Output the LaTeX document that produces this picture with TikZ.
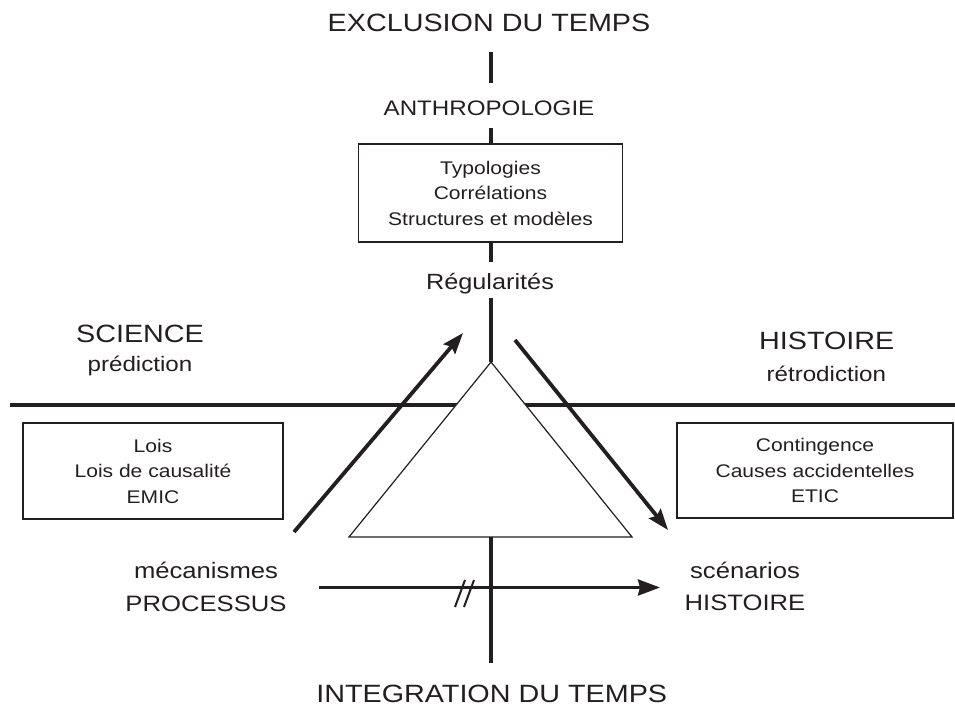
\documentclass[tikz,border=0pt]{standalone}
\usepackage{fontspec}
\setmainfont{Liberation Sans}[FakeStretch=1.15]
\usetikzlibrary{arrows.meta}
\definecolor{ink}{HTML}{231F20}
\newcommand\myfs[2]{\fontsize{#1}{#2}\selectfont}
\begin{document}
\begin{tikzpicture}[x=1pt,y=-1pt,
  lbl/.style={inner sep=0pt, anchor=base, text=ink},
  axis/.style={line width=4.6pt, draw=ink},
  mainline/.style={line width=4.4pt, draw=ink},
  arr/.style={line width=3.8pt, draw=ink, -{Stealth[length=21pt,width=15pt,inset=3pt]}},
  harr/.style={line width=3.3pt, draw=ink, -{Stealth[length=22pt,width=16pt,inset=2pt]}},
  textbox/.style={draw=ink, line width=1.3pt, align=center, inner sep=0pt, text=ink, font=\myfs{18.3}{25.5}},
  tri/.style={fill=white, draw=ink, line width=1.2pt},
  brk/.style={draw=ink, line width=2pt}]
\useasboundingbox (0,0) rectangle (955,708);

% main horizontal line
\coordinate (hl) at (10,405);
\coordinate (hr) at (955,405);
\draw[mainline] (hl) -- (hr);

% triangle
\coordinate (apex) at (491,362);
\coordinate (bl) at (349,537);
\coordinate (br) at (632,537);
\filldraw[tri] (apex) -- (bl) -- (br) -- cycle;

% labels
\node[lbl, font=\myfs{25}{30}] (excl) at (489,32) {EXCLUSION DU TEMPS};
\node[lbl, font=\myfs{21}{25}] (anthro) at (489,115.3) {ANTHROPOLOGIE};
\node[textbox, minimum width=264pt, minimum height=98pt] (typ) at (490.5,193)
  {Typologies\\Corrélations\\Structures et modèles};
\node[lbl, font=\myfs{22}{26}] (reg) at (490,289.3) {Régularités};
\node[lbl, font=\myfs{25}{30}] (sci) at (140,342.3) {SCIENCE};
\node[lbl, font=\myfs{21}{25}] (pred) at (140,371.7) {prédiction};
\node[lbl, font=\myfs{25}{30}] (hist) at (826.7,349) {HISTOIRE};
\node[lbl, font=\myfs{21}{25}] (retro) at (826.3,381) {rétrodiction};
\node[textbox, minimum width=260pt, minimum height=96pt] (lois) at (153,471)
  {Lois\\Lois de causalité\\EMIC};
\node[textbox, minimum width=276pt, minimum height=95pt] (cont) at (815,470.5)
  {Contingence\\Causes accidentelles\\ETIC};
\node[lbl, font=\myfs{22.3}{26}] (meca) at (206,578.3) {mécanismes};
\node[lbl, font=\myfs{22.3}{26}] (proc) at (206,611.5) {PROCESSUS};
\node[lbl, font=\myfs{22.3}{26}] (scen) at (745,578.3) {scénarios};
\node[lbl, font=\myfs{22.3}{26}] (hist2) at (745,610.5) {HISTOIRE};
\node[lbl, font=\myfs{25}{30}] (integ) at (491.7,702) {INTEGRATION DU TEMPS};

% vertical axis segments
\coordinate (v1a) at (491,52);
\coordinate (v1b) at (491,83);
\coordinate (v2a) at (491,128);
\coordinate (v3b) at (491,262);
\coordinate (v4a) at (491,298);
\coordinate (v5a) at (491,537);
\coordinate (v5b) at (491,663);
\draw[axis] (v1a) -- (v1b);
\draw[axis] (v2a) -- (v2a |- typ.north);
\draw[axis] (v3b |- typ.south) -- (v3b);
\draw[axis] (v4a) -- (apex);
\draw[axis] (v5a) -- (v5b);

% diagonal arrows
\coordinate (a1s) at (294,532);
\coordinate (a1e) at (463,333);
\coordinate (a2s) at (515,340);
\coordinate (a2e) at (668,530);
\draw[arr] (a1s) -- (a1e);
\draw[arr] (a2s) -- (a2e);

% bottom arrow
\coordinate (b1s) at (319,587.5);
\coordinate (b1e) at (660,587.5);
\draw[harr] (b1s) -- (b1e);

% break marks
\coordinate (k1a) at (455,607);
\coordinate (k1b) at (465,580);
\coordinate (k2a) at (464,607);
\coordinate (k2b) at (474,580);
\draw[brk] (k1a) -- (k1b) (k2a) -- (k2b);
\end{tikzpicture}
\end{document}
